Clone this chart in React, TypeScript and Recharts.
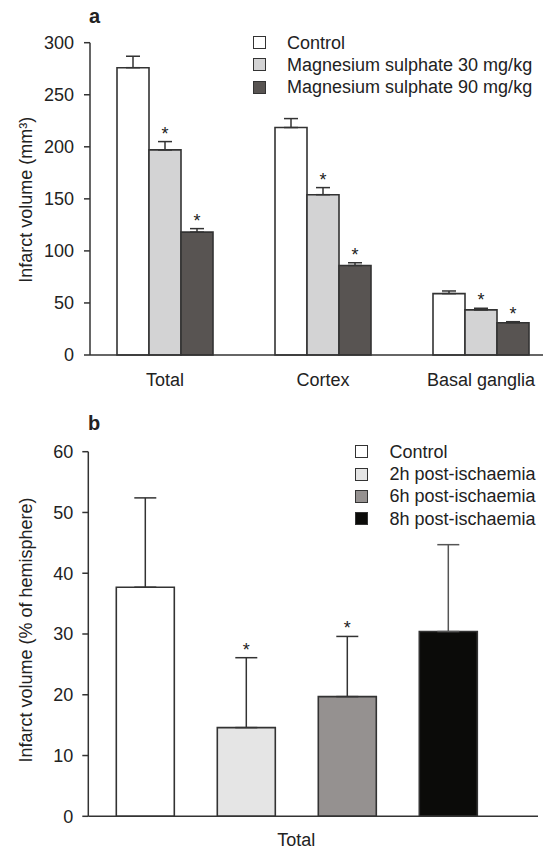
import React from 'react';
import { BarChart, Bar, XAxis, YAxis, ErrorBar, Legend, LabelList } from 'recharts';

const FONT = '"Liberation Sans", Arial, Helvetica, sans-serif';
const TEXT = '#222222';
const LINE = '#333333';

// ---------- Panel a data ----------
const regionsA = ['Total', 'Cortex', 'Basal ganglia'];
const seriesNamesA = ['Control', 'Magnesium sulphate 30 mg/kg', 'Magnesium sulphate 90 mg/kg'];
const controlA = [276, 218.5, 59];
const controlErrA = [11, 8.6, 2.5];
const mg30A = [197, 154, 43.3];
const mg30ErrA = [8, 6.8, 1.6];
const mg90A = [118, 86, 31];
const mg90ErrA = [3.4, 2.6, 1];
const ticksA = [0, 50, 100, 150, 200, 250, 300];

// ---------- Panel b data ----------
const categoryB = ['Total'];
const seriesNamesB = ['Control', '2h post-ischaemia', '6h post-ischaemia', '8h post-ischaemia'];
const valuesB = [37.7, 14.6, 19.7, 30.4];
const errB = [14.7, 11.5, 9.9, 14.3];
const ticksB = [0, 10, 20, 30, 40, 50, 60];

// styles
const COLORS_A = ['#ffffff', '#d3d3d4', '#585452'];
const COLORS_B = ['#ffffff', '#e5e5e5', '#959190', '#0b0b09'];

const dataA = regionsA.map((r, i) => ({
  region: r,
  control: controlA[i],
  controlErr: [0, controlErrA[i]],
  mg30: mg30A[i],
  mg30Err: [0, mg30ErrA[i]],
  mg90: mg90A[i],
  mg90Err: [0, mg90ErrA[i]],
}));

const dataB = categoryB.map((c) => ({
  cat: c,
  s0: valuesB[0], e0: [0, errB[0]],
  s1: valuesB[1], e1: [0, errB[1]],
  s2: valuesB[2], e2: [0, errB[2]],
  s3: valuesB[3], e3: [0, errB[3]],
}));

const Star = (props: any) => {
  const vb = props.viewBox ?? props;
  const { x, y, width, height } = vb;
  const ratio = Number(props.value);
  if (!isFinite(ratio) || x == null) return null;
  const errPx = ratio * height;
  return (
    <text x={x + width / 2} y={y - errPx - 2} textAnchor="middle" fontSize={18} fontFamily={FONT} fill={TEXT}>
      *
    </text>
  );
};

const makeYLabel = (text: string, dy: number) => (props: any) => {
  const vb = props.viewBox || {};
  const cy = vb.y + vb.height / 2 + dy;
  const x = 32;
  return (
    <text x={x} y={cy} transform={`rotate(-90 ${x} ${cy})`} textAnchor="middle" fontSize={18} fontFamily={FONT} fill={TEXT}>
      {text}
    </text>
  );
};

const makeLegend = (names: string[], colors: string[], gap: number, rowH: number) => () => (
  <div style={{ fontFamily: FONT, fontSize: 18, color: TEXT }}>
    {names.map((n, i) => (
      <div key={n} style={{ display: 'flex', alignItems: 'center', height: rowH, whiteSpace: 'nowrap' }}>
        <span
          style={{
            display: 'inline-block',
            width: 13,
            height: 13,
            boxSizing: 'border-box',
            border: `1.5px solid ${LINE}`,
            background: colors[i],
          }}
        />
        <span style={{ marginLeft: gap, lineHeight: `${rowH}px` }}>{n}</span>
      </div>
    ))}
  </div>
);

const tickStyle = { fontSize: 18, fill: TEXT, fontFamily: FONT };
const axisLine = { stroke: LINE, strokeWidth: 1.5 };

export default function App() {
  return (
    <div style={{ position: 'fixed', left: 0, top: 0, width: 548, height: 849, background: '#fff', overflow: 'hidden' }}>
      <div style={{ position: 'absolute', left: 89, top: 6, fontFamily: FONT, fontSize: 20, fontWeight: 'bold', lineHeight: '20px', color: TEXT }}>
        a
      </div>
      <div style={{ position: 'absolute', left: 88, top: 413, fontFamily: FONT, fontSize: 20, fontWeight: 'bold', lineHeight: '20px', color: TEXT }}>
        b
      </div>

      <div style={{ position: 'absolute', left: 0, top: 0 }}>
        <BarChart
          width={548}
          height={400}
          data={dataA}
          margin={{ top: 42.7, right: 5, bottom: 15, left: 30 }}
          barSize={32}
          barGap={0}
        >
          <XAxis
            dataKey="region"
            axisLine={axisLine}
            tickLine={false}
            tickSize={0}
            tickMargin={18.6}
            tick={tickStyle}
            padding={{ left: -4, right: -17 }}
            height={30}
            interval={0}
          />
          <YAxis
            domain={[0, 300]}
            ticks={ticksA}
            width={60}
            axisLine={axisLine}
            tickLine={{ stroke: LINE, strokeWidth: 1.5 }}
            tickSize={6}
            tickMargin={10}
            tick={tickStyle}
            interval={0}
            label={makeYLabel('Infarct volume (mm³)', 1)}
          />
          <Legend
            layout="vertical"
            align="center"
            verticalAlign="middle"
            wrapperStyle={{ left: 253, top: 31.5, width: 'auto' }}
            content={makeLegend(seriesNamesA, COLORS_A, 21, 22.3)}
          />
          <Bar dataKey="control" name={seriesNamesA[0]} fill={COLORS_A[0]} stroke={LINE} strokeWidth={1.6} isAnimationActive={false}>
            <ErrorBar dataKey="controlErr" width={7} stroke={LINE} strokeWidth={1.5} direction="y" isAnimationActive={false} />
          </Bar>
          <Bar dataKey="mg30" name={seriesNamesA[1]} fill={COLORS_A[1]} stroke={LINE} strokeWidth={1.6} isAnimationActive={false}>
            <ErrorBar dataKey="mg30Err" width={7} stroke={LINE} strokeWidth={1.5} direction="y" isAnimationActive={false} />
            <LabelList dataKey={(d: any) => d.mg30Err[1] / d.mg30} content={Star} />
          </Bar>
          <Bar dataKey="mg90" name={seriesNamesA[2]} fill={COLORS_A[2]} stroke={LINE} strokeWidth={1.6} isAnimationActive={false}>
            <ErrorBar dataKey="mg90Err" width={7} stroke={LINE} strokeWidth={1.5} direction="y" isAnimationActive={false} />
            <LabelList dataKey={(d: any) => d.mg90Err[1] / d.mg90} content={Star} />
          </Bar>
        </BarChart>
      </div>

      <div style={{ position: 'absolute', left: 0, top: 400 }}>
        <BarChart
          width={548}
          height={449}
          data={dataB}
          margin={{ top: 51.7, right: 10, bottom: 2.7, left: 28.3 }}
          barSize={58}
          barGap={43}
        >
          <XAxis
            dataKey="cat"
            axisLine={axisLine}
            tickLine={false}
            tickSize={0}
            tickMargin={16.6}
            tick={tickStyle}
            padding={{ left: 0, right: 33.7 }}
            height={30}
            interval={0}
          />
          <YAxis
            domain={[0, 60]}
            ticks={ticksB}
            width={60}
            axisLine={axisLine}
            tickLine={{ stroke: LINE, strokeWidth: 1.5 }}
            tickSize={6}
            tickMargin={9}
            tick={tickStyle}
            interval={0}
            label={makeYLabel('Infarct volume (% of hemisphere)', -4)}
          />
          <Legend
            layout="vertical"
            align="center"
            verticalAlign="middle"
            wrapperStyle={{ left: 355, top: 40.5, width: 'auto' }}
            content={makeLegend(seriesNamesB, COLORS_B, 21.5, 22.4)}
          />
          <Bar dataKey="s0" name={seriesNamesB[0]} fill={COLORS_B[0]} stroke={LINE} strokeWidth={1.6} isAnimationActive={false}>
            <ErrorBar dataKey="e0" width={11} stroke={LINE} strokeWidth={1.5} direction="y" isAnimationActive={false} />
          </Bar>
          <Bar dataKey="s1" name={seriesNamesB[1]} fill={COLORS_B[1]} stroke={LINE} strokeWidth={1.6} isAnimationActive={false}>
            <ErrorBar dataKey="e1" width={11} stroke={LINE} strokeWidth={1.5} direction="y" isAnimationActive={false} />
            <LabelList dataKey={(d: any) => d.e1[1] / d.s1} content={Star} />
          </Bar>
          <Bar dataKey="s2" name={seriesNamesB[2]} fill={COLORS_B[2]} stroke={LINE} strokeWidth={1.6} isAnimationActive={false}>
            <ErrorBar dataKey="e2" width={11} stroke={LINE} strokeWidth={1.5} direction="y" isAnimationActive={false} />
            <LabelList dataKey={(d: any) => d.e2[1] / d.s2} content={Star} />
          </Bar>
          <Bar dataKey="s3" name={seriesNamesB[3]} fill={COLORS_B[3]} stroke={LINE} strokeWidth={1.6} isAnimationActive={false}>
            <ErrorBar dataKey="e3" width={11} stroke="#555555" strokeWidth={1.5} direction="y" isAnimationActive={false} />
          </Bar>
        </BarChart>
      </div>
    </div>
  );
}
